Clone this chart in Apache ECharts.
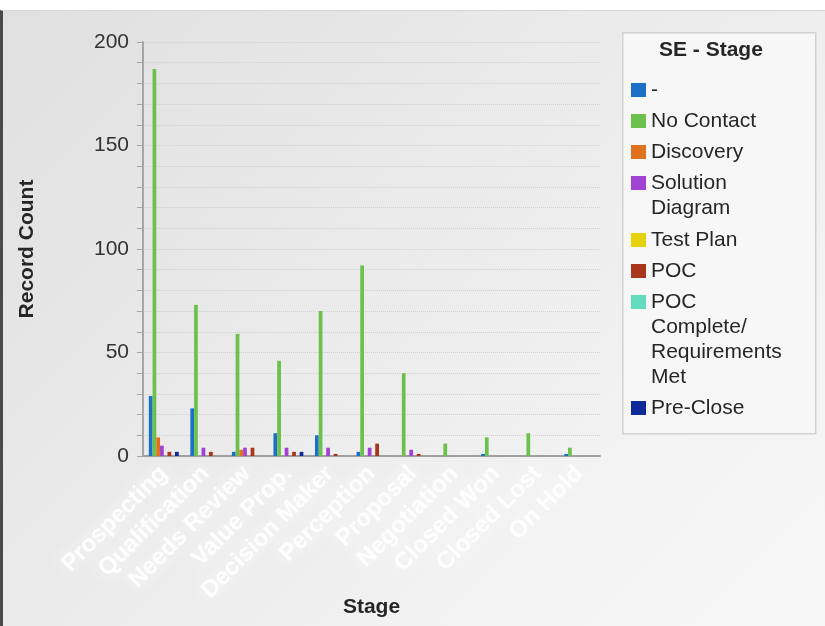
<!DOCTYPE html>
<html>
<head>
<meta charset="utf-8">
<script src="https://cdn.jsdelivr.net/npm/echarts@6/dist/echarts.min.js"></script>
<style>
  html, body { margin: 0; padding: 0; background: #ffffff; }
  #frame { position: absolute; left: 0; top: 10px; width: 822px; height: 615px;
           border-left: 3px solid #4a4a4a; border-top: 1px solid #d6d6d6;
           background: linear-gradient(135deg, #e0e0e0 0%, #ebebeb 45%, #f4f4f4 80%, #f7f7f7 100%); }
  #chart { position: absolute; left: 0; top: 0; width: 825px; height: 626px; }
</style>
</head>
<body>
<div id="frame"></div>
<div id="chart"></div>
<script>
// ---- data ----
var categories = ['Prospecting', 'Qualification', 'Needs Review', 'Value Prop.',
  'Decision Maker', 'Perception', 'Proposal', 'Negotiation', 'Closed Won',
  'Closed Lost', 'On Hold'];
var seriesNames = ['-', 'No Contact', 'Discovery', 'Solution Diagram', 'Test Plan', 'POC',
  'POC Complete/Requirements Met', 'Pre-Close'];
var legendLabels = ['-', 'No Contact', 'Discovery', 'Solution\nDiagram', 'Test Plan', 'POC',
  'POC\nComplete/\nRequirements\nMet', 'Pre-Close'];
var dashValues        = [29, 23, 2, 11, 10, 2, 0, 0, 1, 0, 1];
var noContactValues   = [187, 73, 59, 46, 70, 92, 40, 6, 9, 11, 4];
var discoveryValues   = [9, 0, 3, 0, 0, 0, 0, 0, 0, 0, 0];
var solutionValues    = [5, 4, 4, 4, 4, 4, 3, 0, 0, 0, 0];
var testPlanValues    = [0, 0, 0, 0, 0, 0, 0, 0, 0, 0, 0];
var pocValues         = [2, 2, 4, 2, 1, 6, 1, 0, 0, 0, 0];
var pocCompleteValues = [0, 0, 0, 0, 0, 0, 0, 0, 0, 0, 0];
var preCloseValues    = [2, 0, 0, 2, 0, 0, 0, 0, 0, 0, 0];
var yTicks = [0, 50, 100, 150, 200];

var allValues = [dashValues, noContactValues, discoveryValues, solutionValues,
  testPlanValues, pocValues, pocCompleteValues, preCloseValues];
var colors = ['#1c6fc6', '#6cc04c', '#e0711f', '#a043d2', '#e6d20a', '#a8361a', '#62dcbc', '#0c2a9c'];
var legendCenters = [90, 121, 152, 183, 240, 271, 302, 408];

var FONT = 'Liberation Sans, Arial, sans-serif';
var chart = echarts.init(document.getElementById('chart'), null, { renderer: 'canvas' });

var series = seriesNames.map(function (n, i) {
  return {
    name: n, type: 'bar', data: allValues[i],
    itemStyle: { color: colors[i] },
    barGap: '0%', barCategoryGap: '28%'
  };
});

var legends = seriesNames.map(function (n, i) {
  var lines = legendLabels[i].split('\n').length;
  var pad = '';
  for (var k = 1; k < lines; k++) pad += '\n';
  var totalLines = 2 * lines - 1;
  return {
    data: [n], orient: 'vertical', left: 631,
    top: legendCenters[i] - totalLines * 25 / 2,
    padding: 0, itemWidth: 15, itemHeight: 14, icon: 'rect',
    formatter: function () { return pad + legendLabels[i]; },
    textStyle: { fontFamily: FONT, fontSize: 21, lineHeight: 25, color: '#262626' }
  };
});

chart.setOption({
  animation: false,
  textStyle: { fontFamily: FONT },
  title: {
    text: 'SE - Stage', left: 659, top: 40, padding: 0,
    textStyle: { fontFamily: FONT, fontSize: 21, fontWeight: 'bold', color: '#262626' }
  },
  graphic: [{
    type: 'rect', left: 622, top: 32, z: -1,
    shape: { width: 193, height: 401 },
    style: { fill: '#f7f7f7', stroke: '#d2d2d2', lineWidth: 1.5 }
  }],
  legend: legends,
  grid: { left: 143, top: 42, width: 457, height: 414, containLabel: false, outerBoundsMode: 'none' },
  xAxis: {
    type: 'category', data: categories,
    name: 'Stage', nameLocation: 'middle', nameGap: 141, nameMoveOverlap: false,
    nameTextStyle: { fontFamily: FONT, fontSize: 21, fontWeight: 'bold', color: '#262626' },
    axisLine: { lineStyle: { color: '#a0a0a0', width: 2 } },
    axisTick: { alignWithLabel: true, length: 6, lineStyle: { color: '#a0a0a0' } },
    axisLabel: {
      interval: 0, rotate: 45, margin: 14, fontSize: 24, fontWeight: 'bold',
      color: 'rgba(255,255,255,0.9)', textShadowColor: '#ffffff', textShadowBlur: 16
    },
    splitLine: { show: false }
  },
  yAxis: {
    type: 'value', min: yTicks[0], max: yTicks[yTicks.length - 1], interval: 50,
    name: 'Record Count', nameLocation: 'middle', nameGap: 105, nameMoveOverlap: false,
    nameTextStyle: { fontFamily: FONT, fontSize: 21, fontWeight: 'bold', color: '#262626' },
    axisLine: { show: true, lineStyle: { color: '#a6a6a6', width: 2 } },
    axisTick: { show: true, length: 6, lineStyle: { color: '#a6a6a6' } },
    minorTick: { show: true, splitNumber: 5, length: 6, lineStyle: { color: '#a6a6a6' } },
    axisLabel: { fontSize: 21, color: '#333333', margin: 14 },
    splitLine: { show: true, lineStyle: { color: '#d0d0d0', type: 'dotted', width: 1 } },
    minorSplitLine: { show: true, lineStyle: { color: '#d0d0d0', type: 'dotted', width: 1 } }
  },
  series: series
});
</script>
</body>
</html>
